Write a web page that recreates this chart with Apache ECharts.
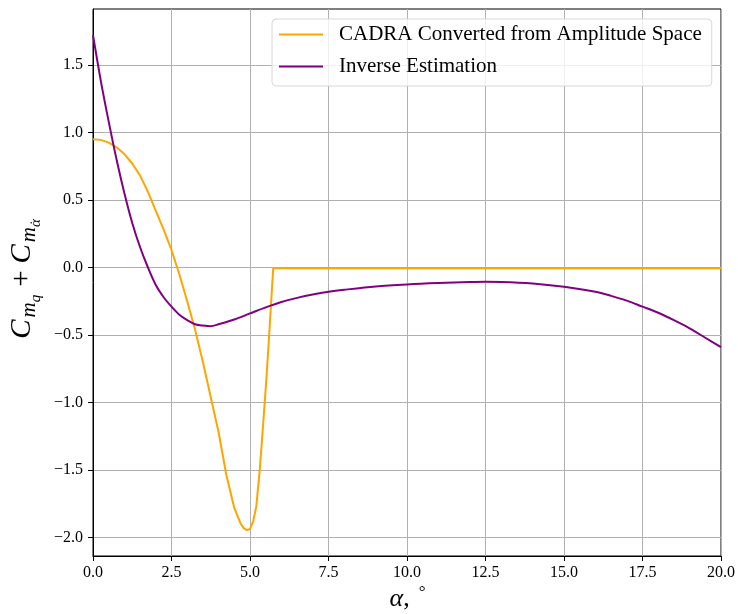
<!DOCTYPE html>
<html>
<head>
<meta charset="utf-8">
<script src="https://cdn.jsdelivr.net/npm/echarts@6/dist/echarts.min.js"></script>
<style>
html,body{margin:0;padding:0;background:#fff;}
#c{width:738px;height:614px;}
</style>
</head>
<body>
<div id="c"></div>
<script>
// ---- data ----
var seriesNames = ['CADRA Converted from Amplitude Space', 'Inverse Estimation'];
var cadraX = [0, 0.25, 0.5, 0.75, 1.0, 1.25, 1.5, 1.75, 2.0, 2.25, 2.5, 2.75, 3.0, 3.25, 3.5, 3.75, 4.0, 4.25, 4.5, 4.7, 4.8, 4.9, 5.0, 5.1, 5.2, 5.31, 5.42, 5.52, 5.6, 5.68, 5.74, 20];
var cadraY = [0.950, 0.945, 0.925, 0.890, 0.840, 0.770, 0.680, 0.560, 0.420, 0.280, 0.130, -0.050, -0.250, -0.460, -0.700, -0.960, -1.220, -1.540, -1.780, -1.895, -1.930, -1.945, -1.935, -1.880, -1.770, -1.500, -1.155, -0.830, -0.540, -0.230, -0.005, -0.005];
var invX = [0, 0.25, 0.5, 0.75, 1.0, 1.25, 1.5, 1.75, 2.0, 2.25, 2.5, 2.75, 3.0, 3.25, 3.5, 3.75, 4.0, 4.5, 5.0, 5.5, 6.0, 6.5, 7.0, 7.5, 8.0, 9.0, 10.0, 11.0, 12.0, 12.5, 13.0, 14.0, 15.0, 16.0, 16.5, 17.0, 17.5, 18.0, 18.5, 19.0, 19.5, 20.0];
var invY = [1.72, 1.38, 1.08, 0.80, 0.55, 0.33, 0.15, 0.00, -0.13, -0.22, -0.29, -0.35, -0.39, -0.42, -0.43, -0.435, -0.42, -0.385, -0.34, -0.295, -0.255, -0.225, -0.20, -0.18, -0.165, -0.14, -0.125, -0.115, -0.108, -0.106, -0.107, -0.118, -0.143, -0.18, -0.21, -0.245, -0.29, -0.335, -0.39, -0.45, -0.52, -0.59];
var xTicks = [0, 2.5, 5, 7.5, 10, 12.5, 15, 17.5, 20];
var yTicks = [-2.0, -1.5, -1.0, -0.5, 0.0, 0.5, 1.0, 1.5];

function zip(xs, ys){ return xs.map(function(x,i){ return [x, ys[i]]; }); }

var FONT = '"Liberation Serif", "Times New Roman", serif';
var mc = document.createElement('canvas').getContext('2d');
function measure(t, size, italic){
  mc.font = (italic ? 'italic ' : '') + size + 'px "Liberation Serif"';
  return mc.measureText(t).width;
}
// build math-like label from tokens: {t, size, italic, dy(baseline shift)}
function buildTokens(tokens){
  var x = 0, children = [];
  tokens.forEach(function(tk){
    var dx = tk.dx || 0;
    children.push({
      type: 'text', x: x + dx, y: (tk.dy || 0) - 0.3 * tk.size,
      style: { text: tk.t, fontFamily: FONT, fontSize: tk.size, fontStyle: tk.italic ? 'italic' : 'normal',
               fill: '#000', verticalAlign: 'middle', align: 'left' }
    });
    if (!tk.overlay) x += measure(tk.t, tk.size, tk.italic) + dx + (tk.after || 0);
  });
  return { children: children, width: x };
}

var yLab = buildTokens([
  {t:'C', size:29, italic:true, after:2},
  {t:'m', size:21, italic:true, dy:5},
  {t:'q', size:15, italic:true, dy:10, after:6},
  {t:'+', size:29, italic:false, dx:2, after:7},
  {t:'C', size:29, italic:true, after:2},
  {t:'m', size:21, italic:true, dy:5},
  {t:'\u03B1', size:15, italic:true, dy:10},
  {t:'\u02D9', size:15, italic:false, dy:10, dx:-6, overlay:true}
]);
var xLab = buildTokens([
  {t:'\u03B1', size:26, italic:true},
  {t:',', size:26, italic:false, after:9},
  {t:'\u00B0', size:17, italic:false, dy:-9}
]);

var chart = echarts.init(document.getElementById('c'), null, {renderer:'canvas'});
var option = {
  animation: false,
  backgroundColor: '#fff',
  grid: { left: 93, right: 16, top: 9, bottom: 58, show: true, borderColor: '#000', borderWidth: 1, containLabel: false },
  legend: {
    orient: 'vertical', left: 272, top: 19,
    icon: 'rect', itemWidth: 44, itemHeight: 2, itemGap: 9,
    padding: [4, 10, 8, 7],
    backgroundColor: 'rgba(255,255,255,0.8)', borderColor: '#d8d8d8', borderWidth: 1, borderRadius: 4,
    textStyle: { fontFamily: FONT, fontSize: 21, lineHeight: 23, color: '#000', padding: [0,0,0,11] },
    data: seriesNames
  },
  xAxis: {
    type: 'value', min: 0, max: 20, interval: 2.5,
    axisLine: { show: true, onZero: false, lineStyle: { color: '#000', width: 1 } },
    axisTick: { show: true, length: 5, lineStyle: { color: '#000' } },
    axisLabel: { fontFamily: FONT, fontSize: 16, color: '#000', margin: 9,
      formatter: function(v){ return v.toFixed(1).replace('-', '\u2212'); } },
    splitLine: { show: true, lineStyle: { color: '#b0b0b0', width: 1 } }
  },
  yAxis: {
    type: 'value', min: -2.136, max: 1.914, splitNumber: 8,
    axisLine: { show: true, onZero: false, lineStyle: { color: '#000', width: 1 } },
    axisTick: { show: true, length: 5, lineStyle: { color: '#000' }, customValues: yTicks },
    axisLabel: { fontFamily: FONT, fontSize: 16, color: '#000', margin: 10, customValues: yTicks,
      formatter: function(v){ return v.toFixed(1).replace('-', '\u2212'); } },
    splitLine: { show: true, lineStyle: { color: '#b0b0b0', width: 1 } }
  },
  series: [
    { name: seriesNames[0], type: 'line', data: zip(cadraX, cadraY), symbol: 'none', smooth: false,
      lineStyle: { color: '#FFA500', width: 2 }, itemStyle: { color: '#FFA500' }, z: 3 },
    { name: seriesNames[1], type: 'line', data: zip(invX, invY), symbol: 'none', smooth: 0.3,
      lineStyle: { color: '#800080', width: 2 }, itemStyle: { color: '#800080' }, z: 4 }
  ],
  graphic: [
    { type: 'group', x: 31, y: 279 + yLab.width / 2, rotation: Math.PI / 2, children: yLab.children },
    { type: 'group', x: 407.5 - xLab.width / 2, y: 607, children: xLab.children }
  ]
};
chart.setOption(option);
</script>
</body>
</html>
